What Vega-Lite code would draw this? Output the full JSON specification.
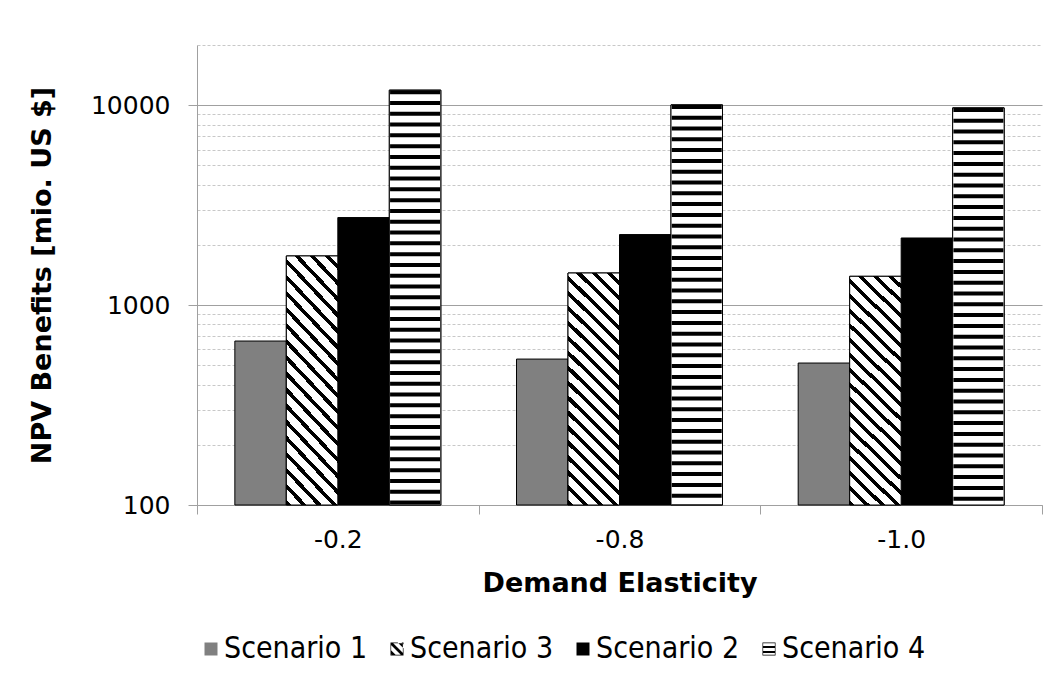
{
  "$schema": "https://vega.github.io/schema/vega-lite/v6.json",
  "width": 845,
  "height": 460,
  "autosize": {"type": "none"},
  "padding": {"left": 197, "top": 45, "right": 13, "bottom": 181},
  "background": "white",
  "data": {
    "values": [
      {"Elasticity": "-0.2", "Scenario": "Scenario 1", "NPV": 661},
      {"Elasticity": "-0.2", "Scenario": "Scenario 3", "NPV": 1761},
      {"Elasticity": "-0.2", "Scenario": "Scenario 2", "NPV": 2741},
      {"Elasticity": "-0.2", "Scenario": "Scenario 4", "NPV": 11890},
      {"Elasticity": "-0.8", "Scenario": "Scenario 1", "NPV": 537},
      {"Elasticity": "-0.8", "Scenario": "Scenario 3", "NPV": 1447},
      {"Elasticity": "-0.8", "Scenario": "Scenario 2", "NPV": 2253},
      {"Elasticity": "-0.8", "Scenario": "Scenario 4", "NPV": 10035},
      {"Elasticity": "-1.0", "Scenario": "Scenario 1", "NPV": 513},
      {"Elasticity": "-1.0", "Scenario": "Scenario 3", "NPV": 1393},
      {"Elasticity": "-1.0", "Scenario": "Scenario 2", "NPV": 2166},
      {"Elasticity": "-1.0", "Scenario": "Scenario 4", "NPV": 9694}
    ]
  },
  "encoding": {
    "x": {
      "field": "Elasticity",
      "type": "nominal",
      "sort": ["-0.2", "-0.8", "-1.0"],
      "scale": {"paddingInner": 0, "paddingOuter": 0},
      "axis": {
        "title": "Demand Elasticity",
        "labelAngle": 0,
        "tickBand": "extent",
        "tickSize": 9,
        "labelPadding": 13,
        "titlePadding": 18,
        "grid": false
      }
    },
    "xOffset": {
      "field": "Scenario",
      "type": "nominal",
      "scale": {"domain": ["Scenario 1", "Scenario 3", "Scenario 2", "Scenario 4"], "paddingInner": 0, "paddingOuter": 0.735}
    },
    "y": {
      "field": "NPV",
      "type": "quantitative",
      "scale": {"type": "log", "domain": [100, 20000], "nice": false},
      "axis": {
        "title": "NPV Benefits [mio. US $]",
        "values": [100, 200, 300, 400, 500, 600, 700, 800, 900, 1000, 2000, 3000, 4000, 5000, 6000, 7000, 8000, 9000, 10000, 20000],
        "format": "d",
        "labelExpr": "datum.value == 100 || datum.value == 1000 || datum.value == 10000 ? datum.label : ''",
        "labelOverlap": false,
        "labelPadding": 18,
        "tickSize": 9,
        "titlePadding": 34,
        "grid": true,
        "gridColor": {"condition": {"test": "datum.value == 100 || datum.value == 1000 || datum.value == 10000", "value": "#a0a0a0"}, "value": "#c8c8c8"},
        "gridDash": {"condition": {"test": "datum.value == 100 || datum.value == 1000 || datum.value == 10000", "value": []}, "value": [3, 2]},
        "tickOpacity": {"condition": {"test": "datum.value == 100 || datum.value == 1000 || datum.value == 10000", "value": 1}, "value": 0}
      }
    }
  },
  "layer": [
    {
      "mark": {"type": "bar", "stroke": "#000000", "strokeWidth": 1},
      "encoding": {
        "y2": {"datum": 100},
        "fill": {
          "field": "Scenario",
          "type": "nominal",
          "scale": {"domain": ["Scenario 1", "Scenario 3", "Scenario 2", "Scenario 4"], "range": ["#808080", "#000000", "#000000", "#000000"]},
          "legend": {
            "orient": "none",
            "legendX": -1,
            "legendY": 589,
            "direction": "horizontal",
            "title": null,
            "symbolSize": 169,
            "symbolStrokeColor": "#000000",
            "symbolStrokeWidth": 1,
            "symbolOpacity": 1,
            "labelFont": "DejaVu Sans Condensed, Liberation Sans",
            "labelFontSize": 30,
            "labelColor": "#000000",
            "labelOffset": -2,
            "columnPadding": 14,
            "padding": 0
          }
        }
      }
    },
    {
      "mark": {"type": "point", "filled": true, "opacity": 0},
      "encoding": {
        "fill": {"field": "Scenario", "type": "nominal"},
        "shape": {
          "field": "Scenario",
          "type": "nominal",
          "scale": {
            "domain": ["Scenario 1", "Scenario 3", "Scenario 2", "Scenario 4"],
            "range": [
              "square",
              "M-1,-1H1V1H-1Z M-0.9,-0.9V0.9H0.9V-0.9Z M-1,-1L-0.7,-1L1,0.7L1,1L0.7,1L-1,-0.7Z M-1,0.1L-0.1,1L-0.7,1L-1,0.7Z M0.1,-1L1,-0.1L1,-0.7L0.7,-1Z",
              "square",
              "M-1,-1H1V1H-1Z M-0.9,-0.9V0.9H0.9V-0.9Z M-0.9,-0.45H0.9V-0.15H-0.9Z M-0.9,0.3H0.9V0.6H-0.9Z"
            ]
          },
          "legend": {
            "orient": "none",
            "legendX": -1,
            "legendY": 589,
            "direction": "horizontal",
            "title": null,
            "symbolSize": 169,
            "symbolStrokeColor": "#000000",
            "symbolStrokeWidth": 1,
            "symbolOpacity": 1,
            "labelFont": "DejaVu Sans Condensed, Liberation Sans",
            "labelFontSize": 30,
            "labelColor": "#000000",
            "labelOffset": -2,
            "columnPadding": 14,
            "padding": 0
          }
        }
      }
    },
    {
      "transform": [{"filter": "datum.Scenario === 'Scenario 3'"}],
      "mark": {
        "type": "bar",
        "stroke": "#000000",
        "strokeWidth": 1,
        "fill": {
          "gradient": "linear", "x1": 0, "y1": 1, "x2": 0.254, "y2": -0.163,
          "stops": [
            {"offset": 0, "color": "#000000"}, {"offset": 0.018, "color": "#000000"}, {"offset": 0.018, "color": "#ffffff"}, {"offset": 0.053, "color": "#ffffff"},
            {"offset": 0.053, "color": "#000000"}, {"offset": 0.071, "color": "#000000"}, {"offset": 0.071, "color": "#ffffff"}, {"offset": 0.106, "color": "#ffffff"},
            {"offset": 0.106, "color": "#000000"}, {"offset": 0.124, "color": "#000000"}, {"offset": 0.124, "color": "#ffffff"}, {"offset": 0.159, "color": "#ffffff"},
            {"offset": 0.159, "color": "#000000"}, {"offset": 0.177, "color": "#000000"}, {"offset": 0.177, "color": "#ffffff"}, {"offset": 0.212, "color": "#ffffff"},
            {"offset": 0.212, "color": "#000000"}, {"offset": 0.23, "color": "#000000"}, {"offset": 0.23, "color": "#ffffff"}, {"offset": 0.265, "color": "#ffffff"},
            {"offset": 0.265, "color": "#000000"}, {"offset": 0.283, "color": "#000000"}, {"offset": 0.283, "color": "#ffffff"}, {"offset": 0.318, "color": "#ffffff"},
            {"offset": 0.318, "color": "#000000"}, {"offset": 0.336, "color": "#000000"}, {"offset": 0.336, "color": "#ffffff"}, {"offset": 0.371, "color": "#ffffff"},
            {"offset": 0.371, "color": "#000000"}, {"offset": 0.389, "color": "#000000"}, {"offset": 0.389, "color": "#ffffff"}, {"offset": 0.424, "color": "#ffffff"},
            {"offset": 0.424, "color": "#000000"}, {"offset": 0.442, "color": "#000000"}, {"offset": 0.442, "color": "#ffffff"}, {"offset": 0.477, "color": "#ffffff"},
            {"offset": 0.477, "color": "#000000"}, {"offset": 0.495, "color": "#000000"}, {"offset": 0.495, "color": "#ffffff"}, {"offset": 0.53, "color": "#ffffff"},
            {"offset": 0.53, "color": "#000000"}, {"offset": 0.548, "color": "#000000"}, {"offset": 0.548, "color": "#ffffff"}, {"offset": 0.583, "color": "#ffffff"},
            {"offset": 0.583, "color": "#000000"}, {"offset": 0.601, "color": "#000000"}, {"offset": 0.601, "color": "#ffffff"}, {"offset": 0.636, "color": "#ffffff"},
            {"offset": 0.636, "color": "#000000"}, {"offset": 0.654, "color": "#000000"}, {"offset": 0.654, "color": "#ffffff"}, {"offset": 0.689, "color": "#ffffff"},
            {"offset": 0.689, "color": "#000000"}, {"offset": 0.707, "color": "#000000"}, {"offset": 0.707, "color": "#ffffff"}, {"offset": 0.742, "color": "#ffffff"},
            {"offset": 0.742, "color": "#000000"}, {"offset": 0.76, "color": "#000000"}, {"offset": 0.76, "color": "#ffffff"}, {"offset": 0.795, "color": "#ffffff"},
            {"offset": 0.795, "color": "#000000"}, {"offset": 0.813, "color": "#000000"}, {"offset": 0.813, "color": "#ffffff"}, {"offset": 0.848, "color": "#ffffff"},
            {"offset": 0.848, "color": "#000000"}, {"offset": 0.866, "color": "#000000"}, {"offset": 0.866, "color": "#ffffff"}, {"offset": 0.901, "color": "#ffffff"},
            {"offset": 0.901, "color": "#000000"}, {"offset": 0.919, "color": "#000000"}, {"offset": 0.919, "color": "#ffffff"}, {"offset": 0.954, "color": "#ffffff"},
            {"offset": 0.954, "color": "#000000"}, {"offset": 0.972, "color": "#000000"}, {"offset": 0.972, "color": "#ffffff"}, {"offset": 1, "color": "#ffffff"}
          ]
        }
      },
      "encoding": {"y2": {"datum": 100}}
    },
    {
      "transform": [{"filter": "datum.Scenario === 'Scenario 4'"}],
      "mark": {"type": "bar", "fill": "#ffffff", "stroke": "#000000", "strokeWidth": 1},
      "encoding": {"y2": {"datum": 100}}
    },
    {
      "transform": [{"filter": "datum.Scenario === 'Scenario 4'"}],
      "mark": {"type": "rule", "stroke": "#000000", "strokeWidth": 50, "strokeDash": [4, 6.8], "strokeCap": "butt"},
      "encoding": {"y2": {"datum": 100}}
    }
  ],
  "config": {
    "view": {"stroke": null},
    "axis": {
      "labelFont": "DejaVu Sans",
      "titleFont": "DejaVu Sans",
      "labelColor": "#000000",
      "titleColor": "#000000",
      "labelFontSize": 25,
      "titleFontSize": 27,
      "titleFontWeight": "bold",
      "domainColor": "#a0a0a0",
      "tickColor": "#a0a0a0"
    }
  }
}
